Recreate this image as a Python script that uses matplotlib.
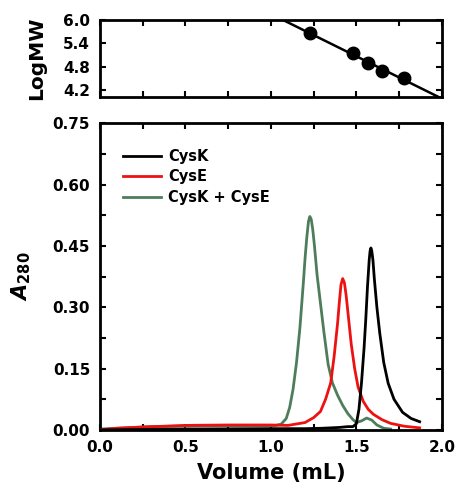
import numpy as np
import matplotlib
matplotlib.use("Agg")
import matplotlib.pyplot as plt
from matplotlib.ticker import MultipleLocator

plt.rcParams["font.family"] = ["DejaVu Sans"]
plt.rcParams["font.weight"] = "bold"
plt.rcParams["mathtext.fontset"] = "dejavusans"

# calibration standards (top panel)
std_vol = [1.228, 1.48, 1.567, 1.649, 1.778]
std_logmw = [5.67, 5.15, 4.89, 4.69, 4.51]

# elution profiles
cysk_x = [0.0, 0.5, 1.0, 1.2, 1.3, 1.4, 1.45, 1.48, 1.50, 1.515, 1.53, 1.545,
          1.555, 1.565, 1.575, 1.58, 1.585, 1.59, 1.597, 1.605, 1.62, 1.637,
          1.66, 1.686, 1.72, 1.77, 1.82, 1.87]
cysk_y = [0.0, 0.002, 0.003, 0.003, 0.004, 0.006, 0.008, 0.008, 0.015, 0.05,
          0.115, 0.20, 0.27, 0.35, 0.415, 0.437, 0.445, 0.438, 0.415, 0.37,
          0.30, 0.236, 0.165, 0.114, 0.075, 0.043, 0.028, 0.020]

cyse_x = [0.0, 0.1, 0.25, 0.5, 0.75, 1.0, 1.1, 1.2, 1.25, 1.29, 1.32, 1.35,
          1.37, 1.39, 1.40, 1.41, 1.42, 1.43, 1.44, 1.45, 1.47, 1.49, 1.51,
          1.54, 1.57, 1.60, 1.65, 1.70, 1.78, 1.87]
cyse_y = [0.0, 0.004, 0.007, 0.011, 0.012, 0.012, 0.011, 0.018, 0.03, 0.045,
          0.075, 0.115, 0.18, 0.26, 0.31, 0.355, 0.37, 0.36, 0.33, 0.29, 0.21,
          0.15, 0.105, 0.07, 0.05, 0.038, 0.025, 0.016, 0.009, 0.005]

mix_x = [0.0, 0.3, 0.6, 0.9, 1.02, 1.06, 1.09, 1.11, 1.13, 1.15, 1.17, 1.19,
         1.20, 1.21, 1.22, 1.228, 1.236, 1.245, 1.255, 1.27, 1.29, 1.31, 1.335,
         1.36, 1.39, 1.42, 1.45, 1.48, 1.50, 1.53, 1.56, 1.59, 1.62, 1.66, 1.70]
mix_y = [0.002, 0.008, 0.010, 0.010, 0.010, 0.014, 0.028, 0.055, 0.10, 0.165,
         0.25, 0.36, 0.42, 0.47, 0.51, 0.522, 0.515, 0.49, 0.45, 0.38, 0.31,
         0.24, 0.16, 0.115, 0.085, 0.06, 0.04, 0.025, 0.018, 0.022, 0.029,
         0.024, 0.012, 0.004, 0.002]

green = "#4e7d5c"

fig = plt.figure(figsize=(4.56, 4.93), dpi=100)
ax1 = fig.add_axes([0.219, 0.804, 0.75, 0.155])
ax2 = fig.add_axes([0.219, 0.128, 0.75, 0.622])

for ax in (ax1, ax2):
    for s in ax.spines.values():
        s.set_linewidth(2)
    ax.tick_params(direction="in", which="both", top=True, right=True,
                   width=1.5, length=4, labelsize=11, pad=7)

# top: calibration
fit = np.polyfit(std_vol, std_logmw, 1)
xx = np.array([0.0, 2.0])
ax1.plot(xx, np.polyval(fit, xx), color="black", lw=1.8)
ax1.plot(std_vol, std_logmw, "o", color="black", ms=9)
ax1.set_xlim(0, 2.0)
ax1.set_ylim(4.03, 6.0)
ax1.xaxis.set_major_locator(MultipleLocator(0.25))
ax1.set_xticklabels([])
ax1.set_yticks([4.2, 4.8, 5.4, 6.0])
ax1.set_yticklabels(["4.2", "4.8", "5.4", "6.0"], fontweight="bold")
ax1.set_ylabel("LogMW", fontsize=14.5, fontweight="bold", labelpad=12)

# bottom: elution profiles
ax2.plot(cysk_x, cysk_y, color="black", lw=2, label="CysK", zorder=4)
ax2.plot(cyse_x, cyse_y, color="#ee1111", lw=2, label="CysE", zorder=3)
ax2.plot(mix_x, mix_y, color=green, lw=2, label="CysK + CysE", zorder=2)
ax2.set_xlim(0, 2.0)
ax2.set_ylim(0, 0.75)
ax2.xaxis.set_major_locator(MultipleLocator(0.5))
ax2.xaxis.set_minor_locator(MultipleLocator(0.25))
ax2.yaxis.set_major_locator(MultipleLocator(0.15))
ax2.yaxis.set_minor_locator(MultipleLocator(0.075))
ax2.set_xticklabels([f"{v:.1f}" for v in ax2.get_xticks()], fontweight="bold")
ax2.set_yticklabels([f"{v:.2f}" for v in ax2.get_yticks()], fontweight="bold")
ax2.set_xlabel("Volume (mL)", fontsize=15, fontweight="bold", labelpad=6)
ax2.set_ylabel(r"$\boldsymbol{A}_{\mathbf{280}}$", fontsize=15, labelpad=14)
leg = ax2.legend(loc="upper left", frameon=False, fontsize=10.5,
                 handlelength=2.6, handletextpad=0.5, labelspacing=0.4,
                 bbox_to_anchor=(0.03, 0.96))
for t in leg.get_texts():
    t.set_fontweight("bold")

fig.savefig("out.png", dpi=100)
